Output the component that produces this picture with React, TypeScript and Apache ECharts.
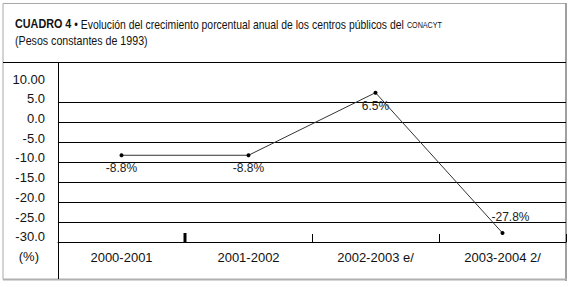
import React, { useEffect, useRef } from "react";
import * as echarts from "echarts";

const categories = ["2000-2001", "2001-2002", "2002-2003 e/", "2003-2004 2/"];
const growth = [-8.8, -8.8, 6.5, -27.8];
const tickLabels = ["(%)", "-30.0", "-25.0", "-20.0", "-15.0", "-10.0", "-5.0", "0.0", "5.0", "10.00"];
const titleMain = "CUADRO 4";
const titleText = " • Evolución del crecimiento porcentual anual de los centros públicos del ";
const titleOrg = "CONACYT";
const subtitle = "(Pesos constantes de 1993)";

const FONT = "'Liberation Sans', Arial, sans-serif";

export default function App() {
  const ref = useRef<HTMLDivElement>(null);
  useEffect(() => {
    if (!ref.current) return;
    const chart = echarts.init(ref.current, null, { renderer: "svg" });
    chart.setOption({
      animation: false,
      backgroundColor: "#ffffff",
      grid: [
        { left: 58, right: 6, top: 62, height: 180, containLabel: false },
        { left: 58, right: 6, top: 79, height: 177.7, containLabel: false },
        { left: 58, right: 6, top: 102.3, height: 139.7, containLabel: false },
      ],
      xAxis: [
        {
          type: "category",
          gridIndex: 0,
          data: categories,
          boundaryGap: true,
          axisLine: { show: true, onZero: false, lineStyle: { color: "#000", width: 1 } },
          axisTick: { show: true, inside: true, length: 8, lineStyle: { color: "#000", width: 1 } },
          axisLabel: { fontFamily: FONT, fontSize: 13, color: "#111", margin: 9 },
          splitLine: { show: false },
        },
        { type: "category", gridIndex: 1, data: ["a"], show: false },
        { type: "value", gridIndex: 2, show: false, min: 0, max: 1 },
      ],
      yAxis: [
        {
          type: "value",
          gridIndex: 0,
          min: -30,
          max: 14,
          show: false,
          splitLine: { show: false },
        },
        {
          type: "category",
          gridIndex: 1,
          data: tickLabels,
          boundaryGap: false,
          axisLine: { show: false },
          axisTick: { show: false },
          splitLine: { show: false },
          axisLabel: {
            margin: 13,
            interval: 0,
            fontFamily: FONT,
            fontSize: 13,
            color: "#111",
            formatter: (v: string) => (v === tickLabels[0] ? "{p|" + v + "}" : v),
            rich: { p: { fontFamily: FONT, fontSize: 13, color: "#111", padding: [0, 6, 0, 0] } },
          },
        },
        {
          type: "value",
          gridIndex: 2,
          min: 0,
          max: 7,
          interval: 1,
          axisLine: { show: false },
          axisTick: { show: false },
          axisLabel: { show: false },
          splitLine: { show: true, lineStyle: { color: "#000", width: 1 } },
        },
      ],
      series: [
        {
          type: "line",
          xAxisIndex: 0,
          yAxisIndex: 0,
          data: growth.map((v, i) => ({
            value: v,
            label:
              i === growth.length - 1
                ? { position: "top", distance: 8, offset: [8, 0] }
                : { position: "bottom", distance: 5 },
          })),
          symbol: "circle",
          symbolSize: 4,
          itemStyle: { color: "#000" },
          lineStyle: { color: "#333", width: 1 },
          label: {
            show: true,
            fontFamily: FONT,
            fontSize: 12,
            color: "#222",
            formatter: (p: any) => p.value.toFixed(1) + "%",
          },
          z: 5,
        },
      ],
      graphic: [
        { type: "rect", shape: { x: 3, y: 3.5, width: 563, height: 276 }, style: { fill: "none", stroke: "#a8a8a8", lineWidth: 1 }, silent: true },
        { type: "line", shape: { x1: 566, y1: 3, x2: 566, y2: 281 }, style: { stroke: "#a0a0a0", lineWidth: 2 }, silent: true },
        { type: "line", shape: { x1: 3, y1: 279.5, x2: 567, y2: 279.5 }, style: { stroke: "#b0b0b0", lineWidth: 2 }, silent: true },
        { type: "line", shape: { x1: 3, y1: 62.5, x2: 566, y2: 62.5 }, style: { stroke: "#000", lineWidth: 1 }, silent: true },
        { type: "line", shape: { x1: 58.5, y1: 62, x2: 58.5, y2: 279 }, style: { stroke: "#000", lineWidth: 1 }, silent: true },
        { type: "rect", shape: { x: 183.5, y: 233, width: 3, height: 9 }, style: { fill: "#000" }, silent: true },
        {
          type: "text",
          x: 15,
          y: 24,
          scaleX: 0.8,
          silent: true,
          style: {
            text: "{b|" + titleMain + "}{n|" + titleText + "}{s|" + titleOrg + "}",
            verticalAlign: "middle",
            rich: {
              b: { fontFamily: FONT, fontSize: 13.5, fontWeight: "bold", fill: "#111", verticalAlign: "bottom" },
              n: { fontFamily: FONT, fontSize: 13, fontWeight: "normal", fill: "#111", verticalAlign: "bottom" },
              s: { fontFamily: FONT, fontSize: 9, fontWeight: "normal", fill: "#111", verticalAlign: "bottom", padding: [0, 0, 1, 0] },
            },
          },
        },
        {
          type: "text",
          x: 15,
          y: 41,
          scaleX: 0.82,
          silent: true,
          style: { text: subtitle, fontFamily: FONT, fontSize: 13, fill: "#111", verticalAlign: "middle" },
        },
      ],
    });
    return () => chart.dispose();
  }, []);
  return <div ref={ref} style={{ width: 572, height: 287, position: "absolute", left: 0, top: 0 }} />;
}
